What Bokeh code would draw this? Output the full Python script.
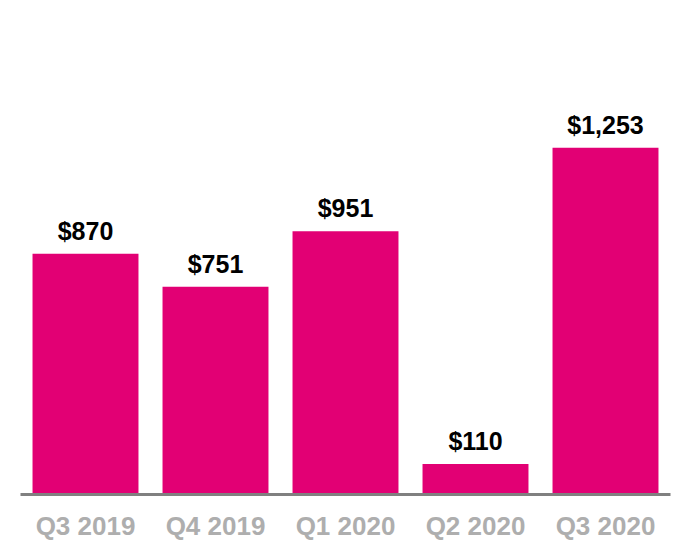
from bokeh.plotting import figure
from bokeh.models import ColumnDataSource, Range1d
from bokeh.core.properties import value
from bokeh.embed import file_html
from bokeh.resources import INLINE

quarters = ["Q3 2019", "Q4 2019", "Q1 2020", "Q2 2020", "Q3 2020"]
values = [870, 751, 951, 110, 1253]
labels = ["$870", "$751", "$951", "$110", "$1,253"]

src = ColumnDataSource(dict(q=quarters, v=values, lab=labels))

p = figure(x_range=quarters, y_range=Range1d(0, 1756),
           width=690, height=560, output_backend="svg", toolbar_location=None,
           min_border_left=20, min_border_right=20, min_border_top=8, min_border_bottom=66)
p.outline_line_color = None
p.background_fill_color = "white"
p.border_fill_color = "white"
p.grid.grid_line_color = None
p.x_range.range_padding = 0

p.vbar(x="q", top="v", width=0.815, source=src, fill_color="#E20074", line_color=None)
p.text(x="q", y="v", text="lab", source=src, text_align="center", text_baseline="alphabetic",
       y_offset=-23, text_font=value("Liberation Sans"), text_font_style="bold",
       text_font_size="25px", text_color="black")

p.yaxis.visible = False
ax = p.xaxis[0]
ax.axis_line_color = "#808080"
ax.axis_line_width = 3
ax.major_tick_line_color = None
ax.minor_tick_line_color = None
ax.major_label_text_font = "Liberation Sans"
ax.major_label_text_font_style = "bold"
ax.major_label_text_font_size = "26px"
ax.major_label_text_color = "#AEAEAE"
ax.major_label_standoff = 10

open("out.html", "w").write(file_html(p, INLINE))
